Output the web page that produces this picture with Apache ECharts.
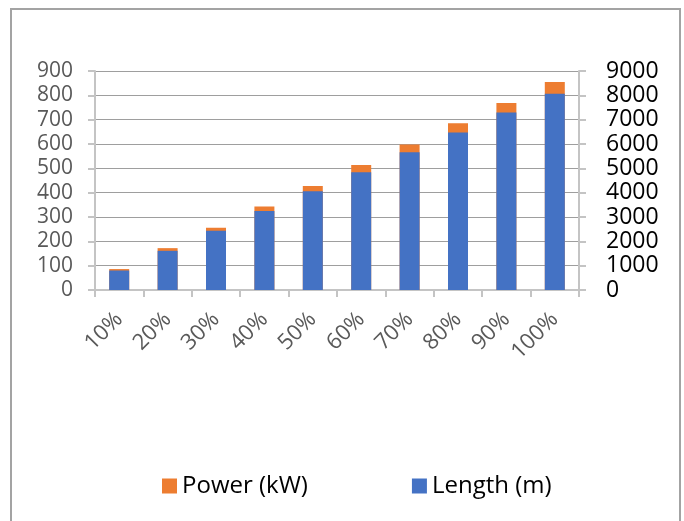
<!DOCTYPE html>
<html>
<head>
<meta charset="utf-8">
<script src="https://cdn.jsdelivr.net/npm/echarts@6/dist/echarts.min.js"></script>
<style>
  html, body { margin: 0; padding: 0; background: #fff; }
  #chart { width: 684px; height: 521px; }
</style>
</head>
<body>
<div id="chart"></div>
<script>
// Share of full load on the category axis
const categories = ['10%', '20%', '30%', '40%', '50%', '60%', '70%', '80%', '90%', '100%'];
// Power in kW (left axis)
const powerKW = [86, 172, 256, 343, 427, 514, 598, 685, 769, 855];
// Length in metres (right axis)
const lengthM = [800, 1610, 2430, 3250, 4060, 4840, 5660, 6470, 7290, 8070];

const FONT = '"Open Sans", "Noto Sans", sans-serif';

const chart = echarts.init(document.getElementById('chart'), null, { renderer: 'canvas' });

chart.setOption({
  animation: false,
  backgroundColor: '#ffffff',
  textStyle: { fontFamily: FONT },
  graphic: [{
    type: 'rect',
    shape: { x: 11, y: 9, width: 669, height: 540 },
    style: { fill: 'none', stroke: '#a3a3a3', lineWidth: 2 },
    silent: true
  }],
  grid: { left: 95, top: 71, width: 484, height: 219, containLabel: false },
  legend: {
    bottom: 18,
    left: 157,
    itemWidth: 15,
    itemHeight: 15,
    itemGap: 104,
    icon: 'rect',
    textStyle: { fontFamily: FONT, fontSize: 24, color: '#000000' },
    data: ['Power (kW)', 'Length (m)']
  },
  xAxis: {
    type: 'category',
    data: categories,
    axisLine: { show: true, lineStyle: { color: '#c4c4c4', width: 2 } },
    axisTick: { show: true, length: 7, alignWithLabel: false, lineStyle: { color: '#c4c4c4', width: 2 } },
    axisLabel: {
      rotate: 45,
      margin: 26,
      interval: 0,
      fontFamily: FONT,
      fontSize: 22,
      color: '#595959'
    }
  },
  yAxis: [
    {
      type: 'value',
      min: 0, max: 900, interval: 100,
      position: 'left',
      axisLine: { show: true, lineStyle: { color: '#c4c4c4', width: 2 } },
      axisTick: { show: true, length: 7, lineStyle: { color: '#c4c4c4', width: 2 } },
      axisLabel: { margin: 22, fontFamily: FONT, fontSize: 21, color: '#595959' },
      splitLine: { show: true, lineStyle: { color: '#9e9e9e', width: 1 } }
    },
    {
      type: 'value',
      min: 0, max: 9000, interval: 1000,
      position: 'right',
      axisLine: { show: true, lineStyle: { color: '#c4c4c4', width: 2 } },
      axisTick: { show: true, length: 7, lineStyle: { color: '#c4c4c4', width: 2 } },
      axisLabel: {
        margin: 27, fontFamily: FONT, fontSize: 23, color: '#000000',
        formatter: function (v) { return String(v); }
      },
      splitLine: { show: false }
    }
  ],
  series: [
    {
      name: 'Power (kW)',
      type: 'bar',
      yAxisIndex: 0,
      data: powerKW,
      barWidth: 20,
      barGap: '-100%',
      itemStyle: { color: '#ED7D31' }
    },
    {
      name: 'Length (m)',
      type: 'bar',
      yAxisIndex: 1,
      data: lengthM,
      barWidth: 20,
      barGap: '-100%',
      itemStyle: { color: '#4472C4' }
    }
  ]
});
</script>
</body>
</html>
